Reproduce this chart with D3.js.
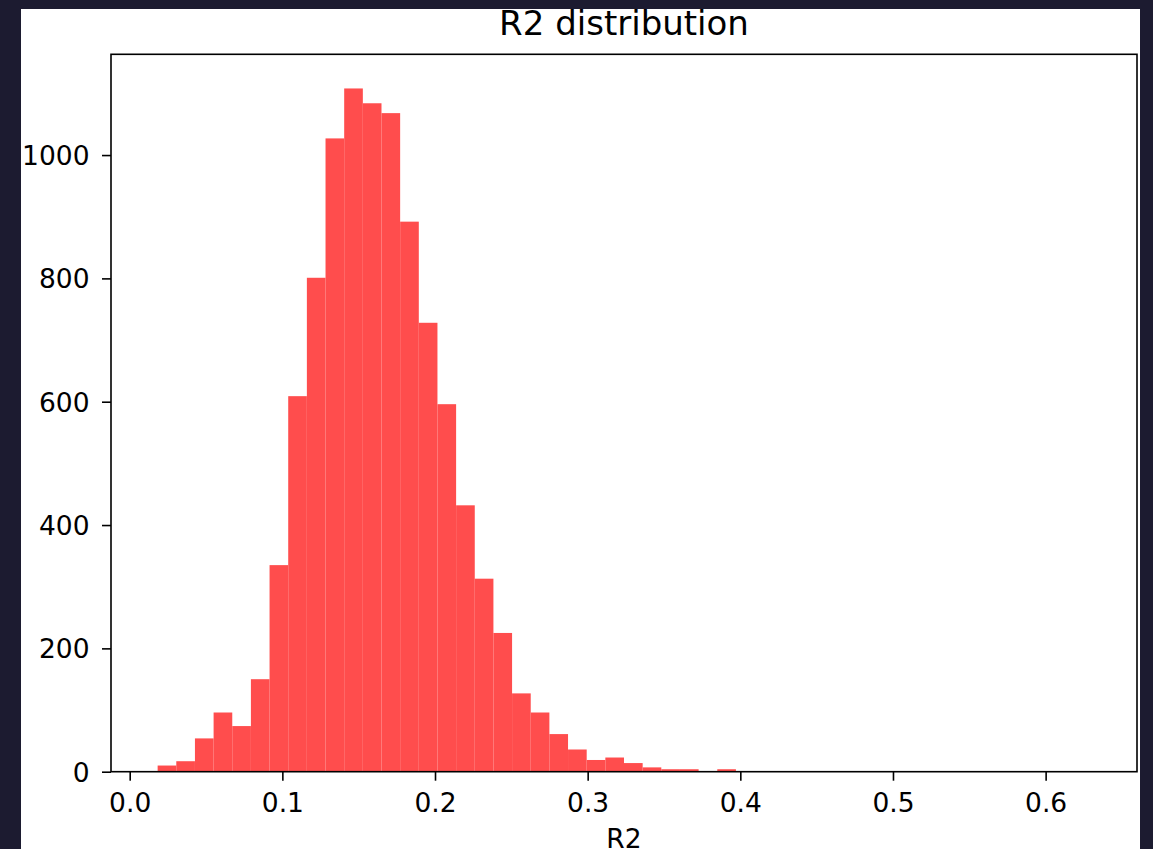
<!DOCTYPE html>
<html>
<head>
<meta charset="utf-8">
<script src="https://cdn.jsdelivr.net/npm/d3@7"></script>
<style>
  html, body { margin: 0; padding: 0; background: #1c1b30; }
  svg { display: block; }
  text { font-family: "DejaVu Sans", sans-serif; fill: #000; }
</style>
</head>
<body>
<script>
// ---- data ----
const binStart = 0.0183;
const binWidth = 0.01222;
const counts = [10, 17, 54, 96, 74, 150, 335, 609, 801, 1027,
                1108, 1084, 1068, 892, 728, 596, 432, 313, 225, 127,
                96, 61, 36, 19, 23, 14, 7, 4, 4, 0,
                4, 1, 0, 1, 0, 0, 0, 0, 0, 0,
                0, 0, 0, 0, 0, 0, 0, 0, 0, 1];
const xTicks = [0.0, 0.1, 0.2, 0.3, 0.4, 0.5, 0.6];
const yTicks = [0, 200, 400, 600, 800, 1000];
const titleText = "R2 distribution";
const xLabel = "R2";

// ---- layout ----
const W = 1153, H = 849;
const mLeft = 111, mRight = 1137, mTop = 54.3, mBottom = 771.7;
const tickFont = 26.5;

const svg = d3.select("body").append("svg").attr("width", W).attr("height", H);
svg.append("rect").attr("x", 0).attr("y", 0).attr("width", W).attr("height", H).attr("fill", "#1c1b30");
svg.append("rect").attr("x", 21).attr("y", 9).attr("width", 1119).attr("height", H - 9).attr("fill", "#ffffff");

const bins = counts.map((c, i) => ({x0: binStart + i * binWidth, x1: binStart + (i + 1) * binWidth, c}));
const xmin = bins[0].x0, xmax = bins[bins.length - 1].x1;
const pad = (xmax - xmin) * 0.05;
const x = d3.scaleLinear().domain([xmin - pad, xmax + pad]).range([mLeft, mRight]);
const y = d3.scaleLinear().domain([0, d3.max(counts) * 1.05]).range([mBottom, mTop]);

svg.append("g").selectAll("rect").data(bins).join("rect")
  .attr("x", d => x(d.x0))
  .attr("width", d => x(d.x1) - x(d.x0))
  .attr("y", d => y(d.c))
  .attr("height", d => mBottom - y(d.c))
  .attr("fill", "#ff4d4d");

// axes
const xAxis = svg.append("g").attr("transform", `translate(0,${mBottom})`)
  .call(d3.axisBottom(x).tickValues(xTicks).tickFormat(d3.format(".1f")).tickSize(9).tickSizeOuter(0));
xAxis.select(".domain").remove();
xAxis.selectAll(".tick line").attr("stroke", "#000").attr("stroke-width", 1.6);
xAxis.selectAll(".tick text").attr("dy", null).attr("y", 40.5).attr("font-size", tickFont).attr("fill", "#111");

const yAxis = svg.append("g").attr("transform", `translate(${mLeft},0)`)
  .call(d3.axisLeft(y).tickValues(yTicks).tickFormat(d3.format("d")).tickSize(9).tickSizeOuter(0));
yAxis.select(".domain").remove();
yAxis.selectAll(".tick line").attr("stroke", "#000").attr("stroke-width", 1.6);
yAxis.selectAll(".tick text").attr("x", -21.5).attr("dy", "0.36em").attr("font-size", tickFont).attr("fill", "#111");

// spines
svg.append("rect").attr("x", mLeft).attr("y", mTop).attr("width", mRight - mLeft).attr("height", mBottom - mTop)
  .attr("fill", "none").attr("stroke", "#000").attr("stroke-width", 1.6);

// title & label
svg.append("text").attr("x", (mLeft + mRight) / 2).attr("y", 35).attr("text-anchor", "middle")
  .attr("font-size", 34).attr("fill", "#111").text(titleText);
svg.append("text").attr("x", (mLeft + mRight) / 2).attr("y", 848).attr("text-anchor", "middle")
  .attr("font-size", tickFont).attr("fill", "#111").text(xLabel);
</script>
</body>
</html>
